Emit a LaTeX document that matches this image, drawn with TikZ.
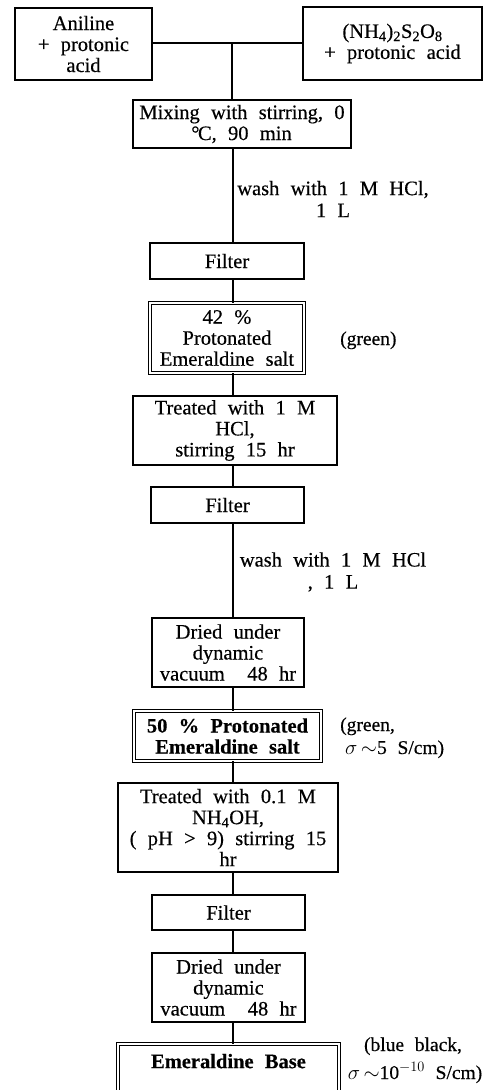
\documentclass[tikz,border=0pt]{standalone}
\usepackage{fontspec}
\setmainfont{Liberation Serif}[WordSpace={2.2,1,1}, FakeBold=0.4]
\begin{document}
\begin{tikzpicture}[x=1pt,y=-1pt,
  every node/.style={font=\fontsize{20.5}{21}\selectfont},
  box/.style={draw, line width=1.4pt, rectangle, inner sep=0pt, align=center},
  dbox/.style={box, line width=0.9pt, double, double distance=2pt},
  conn/.style={line width=1.2pt},
  lbl/.style={align=center, inner sep=0pt, font=\fontsize{20.5}{22}\selectfont},
  side/.style={inner sep=0pt, anchor=west, font=\fontsize{19.5}{20}\selectfont, text height=14pt, text depth=4pt}]
\useasboundingbox (0,0) rectangle (486,1090);
\node[box, minimum width=137pt, minimum height=72pt] (A) at (83.5,44) {Aniline\\+ protonic\\acid};
\node[box, minimum width=179pt, minimum height=73pt] (B) at (392.5,43.5) {(NH\textsubscript{4})\textsubscript{2}S\textsubscript{2}O\textsubscript{8}\\+ protonic acid};
\node[box, minimum width=218pt, minimum height=48pt] (C) at (242,124) {Mixing with stirring, 0\\\kern-1pt°\kern-1.5ptC, 90 min};
\node[box, minimum width=154pt, minimum height=36pt] (D) at (227,261) {Filter};
\node[dbox, minimum width=154pt, minimum height=70pt] (E) at (227,338) {42 \%\\Protonated\\Emeraldine salt};
\node[box, minimum width=204pt, minimum height=69pt] (F) at (235,430.5) {Treated with 1 M\\HCl,\\stirring 15 hr};
\node[box, minimum width=153pt, minimum height=36pt] (G) at (227.5,505) {Filter};
\node[box, minimum width=152pt, minimum height=69pt] (H) at (228,652.5) {Dried under\\dynamic\\vacuum\ \ 48 hr};
\node[dbox, minimum width=187pt, minimum height=50pt, font=\fontsize{20.5}{21}\selectfont\bfseries] (I) at (227.5,736) {50 \% Protonated\\Emeraldine salt};
\node[box, minimum width=220pt, minimum height=89pt] (J) at (228,827.5) {Treated with 0.1 M\\NH\textsubscript{4}OH,\\( pH > 9) stirring 15\\hr};
\node[box, minimum width=153pt, minimum height=35pt] (K) at (228.5,912.5) {Filter};
\node[box, minimum width=153pt, minimum height=69pt] (L) at (228.5,987.5) {Dried under\\dynamic\\vacuum\ \ 48 hr};
\node[dbox, minimum width=221pt, minimum height=58pt, font=\fontsize{20.5}{21}\selectfont\bfseries, text depth=0pt] (M) at (228.5,1073) {\raisebox{24pt}{Emeraldine Base}};
% side labels
\node[lbl] (w1) at (333,199) {wash with 1 M HCl,\\1 L};
\node[lbl] (w2) at (333,572) {wash with 1 M HCl\\, 1 L};
\node[side] (s1) at (340,340) {(green)};
\node[side] (s2a) at (340,726) {(green,};
\node[side] (s2b) at (345,749) {$\sigma\,{\sim}$5 S/cm)};
\node[side, anchor=center] (s3a) at (413,1046) {(blue black,};
\node[side, anchor=center] (s3b) at (415,1074) {$\sigma\,{\sim}$10$^{-10}$ S/cm)};
% connectors
\coordinate (sp) at (233,0);
\coordinate (j) at (232,43);
\draw[conn] (A.east |- j) -- (B.west |- j);
\draw[conn] (j) -- (j |- C.north);
\draw[conn] (C.south -| sp) -- (D.north -| sp);
\draw[conn] (D.south -| sp) -- (E.north -| sp);
\draw[conn] (E.south -| sp) -- (F.north -| sp);
\draw[conn] (F.south -| sp) -- (G.north -| sp);
\draw[conn] (G.south -| sp) -- (H.north -| sp);
\draw[conn] (H.south -| sp) -- (I.north -| sp);
\draw[conn] (I.south -| sp) -- (J.north -| sp);
\draw[conn] (J.south -| sp) -- (K.north -| sp);
\draw[conn] (K.south -| sp) -- (L.north -| sp);
\draw[conn] (L.south -| sp) -- (M.north -| sp);
\end{tikzpicture}
\end{document}
